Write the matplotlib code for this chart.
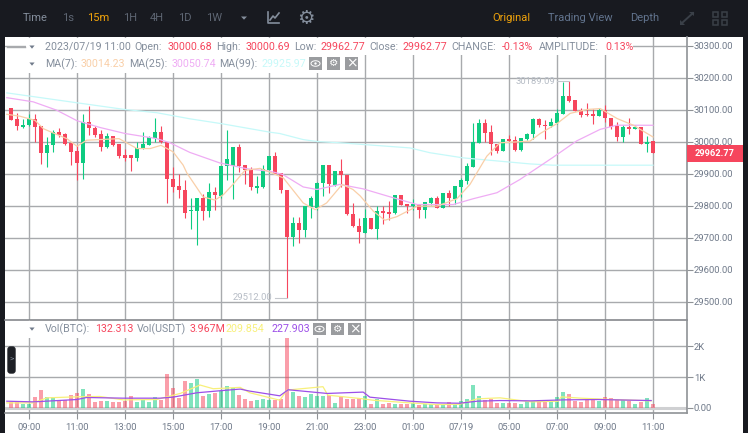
import matplotlib
matplotlib.use('Agg')
import matplotlib.pyplot as plt
from matplotlib.patches import Rectangle, Ellipse, Polygon, FancyBboxPatch

plt.rcParams['font.family'] = ['Roboto', 'DejaVu Sans']

# ローソク足 (08:15 から 15分ごと)
opens = [30106,30069,30046,30051,30069,30048,29964,29988,30029,30022,29994,29969,29934,30060,30043,30022,29983,30017,29991,29958,
         29957,29947,29979,29988,30012,30031,29999,29884,29860,29850,29782,29784,29824,29782,29842,29831,29923,29925,29982,29928,
         29915,29856,29858,29912,29956,29902,29850,29702,29744,29723,29796,29793,29869,29926,29865,29907,29895,29775,29737,29715,
         29760,29727,29784,29781,29777,29833,29805,29800,29804,29785,29808,29823,29793,29840,29821,29858,29878,29921,29996,30058,
         30029,29993,29971,30008,30004,29972,30008,30023,30069,30053,30048,30058,30086,30142,30129,30099,30085,30085,30081,30099,
         30075,30048,30013,30046,30040,30044,29992,30000.68]
highs = [30106,30090,30069,30085,30087,30048,30014,30035,30041,30027,29999,29988,30085,30110,30048,30037,30027,30017,29991,29978,
         29957,29999,30029,30017,30072,30048,29999,29919,29900,29881,29824,29824,29837,29871,29858,29925,30035,29982,29991,29928,
         29921,29892,29928,29956,29967,29902,29850,29765,29765,29798,29831,29873,29926,29926,29907,29946,29895,29808,29761,29790,
         29760,29798,29798,29814,29833,29833,29805,29819,29804,29810,29827,29831,29840,29847,29862,29886,29933,30058,30071,30071,
         30053,29993,30008,30019,30017,30010,30027,30075,30072,30067,30072,30103,30187,30189.09,30131,30105,30119,30103,30105,30114,
         30075,30061,30051,30072,30051,30044,30017,30000.69]
lows = [30066,30037,30041,30048,29999,29929,29921,29968,30014,29988,29926,29881,29884,30020,30014,29971,29981,29985,29950,29940,
        29908,29940,29977,29988,29999,29994,29808,29843,29822,29762,29727,29677,29754,29765,29787,29824,29881,29819,29904,29866,
        29850,29840,29855,29902,29900,29840,29512,29673,29683,29702,29761,29785,29831,29840,29860,29858,29769,29733,29683,29713,
        29727,29694,29741,29754,29775,29802,29777,29785,29761,29761,29803,29793,29791,29798,29806,29827,29866,29921,29996,29999,
        29959,29965,29971,29998,29971,29971,30006,30009,30046,30007,30046,30056,30086,30122,30094,30077,30079,30054,30079,30062,
        30038,30002,29998,30023,30038,29992,29966,29962.77]
closes = [30066,30048,30053,30069,30044,29964,29988,30029,30019,29992,29967,29934,30060,30041,30019,29983,30017,29988,29956,29950,
          29947,29981,29992,30014,30031,29997,29882,29858,29848,29777,29787,29824,29782,29842,29832,29925,29944,29982,29925,29912,
          29858,29862,29915,29956,29900,29850,29702,29744,29723,29798,29825,29869,29926,29866,29907,29895,29772,29735,29717,29760,
          29727,29784,29777,29775,29833,29802,29800,29804,29785,29810,29823,29793,29840,29823,29862,29881,29925,29997,30058,30027,
          29991,29971,30008,30001,29972,30010,30025,30071,30051,30049,30060,30088,30142,30126,30096,30083,30082,30081,30100,30072,
          30044,30013,30046,30040,30046,29992,30000,29962.77]
volumes = [197,197,142,142,339,590,361,350,251,251,404,470,612,437,197,240,240,186,208,240,
           383,208,262,208,361,262,1093,645,328,874,809,929,372,437,470,557,710,656,404,284,
           240,251,284,251,251,306,2400,525,383,339,459,372,383,404,175,339,306,284,328,383,
           131,284,120,164,142,120,142,153,109,131,131,142,120,186,142,240,284,732,372,262,
           306,164,175,175,175,131,219,230,251,230,230,350,503,448,230,208,251,251,240,339,
           328,262,273,230,142,208,328,132.313]

# 移動平均線 (読み取った点)
ma7_x = [-0.7,1.5,4,5.4,7,9.3,11,12.6,14.8,18,21,23.2,25,27,28.7,29.3,32,34,35.4,37,39,41.5,43.2,45.4,48.7,50.7,52.6,55.2,57,58.2,60.4,62.3,64.3,67.7,71,74.3,76.5,79.3,81.5,86.5,88.2,91,93.2,96,98.2,101,103.7,107]
ma7_y = [30085,30079,30066,30040,30027,30009,29985,30004,30006,30009,29978,29978,29988,29968,29926,29902,29827,29817,29834,29866,29910,29916,29904,29886,29808,29787,29808,29866,29850,29830,29782,29754,29765,29798,29798,29821,29866,29954,29996,30001,30025,30056,30088,30100,30103,30072,30051,30014.23]
ma25_x = [-0.7,3.7,7.6,11,14.8,19,24.3,26.5,29.8,34.8,39.3,43.2,45.3,48.7,51,54.8,58.7,63.2,67.7,73.7,77,81,84.8,90.3,94.3,98.2,101,107]
ma25_y = [30137,30124,30098,30065,30044,30025,30009,29996,29966,29933,29915,29907,29897,29858,29850,29866,29852,29827,29803,29803,29821,29840,29881,29950,30002,30038,30051,30050.74]
ma99_x = [-0.7,11,19,24.3,29.8,35,43.2,44.8,48.7,51,54.8,66.5,69.8,75.3,86.5,90.3,107]
ma99_y = [30152,30121,30100,30090,30071,30056,30029,30025,30006,30000,29996,29980,29965,29949,29930,29926,29925.97]

vol_ma1_x = [-0.7,3.7,6,11,14.8,18.7,24.3,28.2,31.5,33.7,38.2,39.8,44.8,46,52,52.8,58.7,60.3,66.5,71,74.8,77.7,81.5,86.7,91.2,91.7,95,100,106.7]
vol_ma1_y = [164,164,328,361,372,262,273,470,743,623,667,492,251,579,689,415,295,251,164,109,120,295,328,197,219,360,317,273,230]
vol_ma2_x = [-0.7,3.7,11,12.6,18.7,24.8,27,31,34.8,38.2,39.8,44.8,46.2,52.7,58.7,59.8,66.5,71,74.8,77.7,81.5,86.7,92.3,97.8,106.7]
vol_ma2_y = [219,197,273,339,317,317,350,492,557,612,546,393,590,470,514,350,219,164,153,219,240,230,262,273,240]

price_ticks = [29500,29600,29700,29800,29900,30000,30100,30200,30300]
vol_ticks = [0,1000,2000]
vol_tick_labels = ['0.00','1K','2K']
time_ticks = [3,11,19,27,35,43,51,59,67,75,83,91,99,107]
time_labels = ['09:00','11:00','13:00','15:00','17:00','19:00','21:00','23:00','01:00','07/19','05:00','07:00','09:00','11:00']

GREEN = '#0ecb81'
RED = '#f6465d'
GRID = '#a8aaad'
AXIS = '#8f9296'
LABEL = '#848e9c'
TICK = '#707a8a'
MA7_C = '#f9cfa8'
MA25_C = '#efacf4'
MA99_C = '#c6f9f9'
VOL1_C = '#f8f07a'
VOL2_C = '#9c4fe8'
W, H = 748, 433

fig = plt.figure(figsize=(W/100, H/100), dpi=100, facecolor='white')

def px_axes(x0, y0, x1, y1, **kw):
    return fig.add_axes([x0/W, 1-y1/H, (x1-x0)/W, (y1-y0)/H], **kw)

bg = px_axes(0, 0, W, H, zorder=0)
bg.set_xlim(0, W); bg.set_ylim(H, 0); bg.axis('off')
bg.add_patch(Rectangle((0, 0), W, 37, color='#181a20', lw=0))
bg.add_patch(Rectangle((0, 0), 5, H, color='#181a20', lw=0))
bg.add_patch(Rectangle((743, 0), 5, H, color='#181a20', lw=0))

# 価格
ax = px_axes(5, 37, 687, 320, zorder=1)
ax_v = px_axes(5, 320, 687, 413, zorder=1, sharex=ax)
xs = list(range(len(closes)))
colors = [GREEN if c >= o else RED for o, c in zip(opens, closes)]

for a in (ax, ax_v):
    a.patch.set_alpha(0)
    a.set_axisbelow(True)
    a.grid(True, color=GRID, lw=1.0)
    a.yaxis.tick_right()
    a.tick_params(axis='y', length=4, width=0.8, color=AXIS, labelcolor=TICK, labelsize=6.8, pad=1)
    a.spines['left'].set_visible(False)
    a.spines['right'].set_color(AXIS)
    a.spines['right'].set_linewidth(1.2)

ax.set_xlim(-1, 112.67)
ax.set_ylim(29442.2, 30326.6)
ax.set_yticks(price_ticks)
ax.set_yticklabels(['%.2f' % p for p in price_ticks])
ax.set_xticks(time_ticks)
ax.tick_params(axis='x', length=0, labelbottom=False)
ax.spines['top'].set_visible(False)
ax.spines['bottom'].set_color('#85888c')
ax.spines['bottom'].set_linewidth(1.2)

ax.vlines(xs, lows, highs, colors=colors, lw=0.8, zorder=3)
bottoms = [min(o, c) for o, c in zip(opens, closes)]
heights = [abs(o - c) for o, c in zip(opens, closes)]
ax.bar(xs, heights, bottom=bottoms, width=0.75, color=colors, lw=0, zorder=3)
ax.plot(ma99_x, ma99_y, color=MA99_C, lw=0.9, zorder=4)
ax.plot(ma25_x, ma25_y, color=MA25_C, lw=0.9, zorder=4)
ax.plot(ma7_x, ma7_y, color=MA7_C, lw=0.9, zorder=4)

# 最高値・最低値
ax.plot([93, 91], [30189.09, 30189.09], color='#c4c7cc', lw=0.8, zorder=4)
ax.text(90.7, 30189.09, '30189.09', ha='right', va='center', fontsize=6.8, color='#b7bdc6', zorder=4)
ax.plot([46, 44], [29512, 29512], color='#c4c7cc', lw=0.8, zorder=4)
ax.text(43.6, 29512, '29512.00', ha='right', va='center', fontsize=6.8, color='#b7bdc6', zorder=4)

# 出来高
ax_v.set_ylim(-164, 2852)
ax_v.set_yticks(vol_ticks)
ax_v.set_yticklabels(vol_tick_labels)
ax_v.set_xticks(time_ticks)
ax_v.set_xticklabels(time_labels)
ax_v.tick_params(axis='x', length=4, width=0.8, color=AXIS, labelcolor=TICK, labelsize=6.8, pad=3)
ax_v.spines['top'].set_visible(False)
ax_v.spines['bottom'].set_color(AXIS)
ax_v.spines['bottom'].set_linewidth(1.2)
ax_v.axhline(0, color='#cfd0d2', lw=2.2, zorder=2)
ax_v.bar(xs, volumes, width=0.72, color=colors, alpha=0.52, lw=0, zorder=3)
ax_v.plot(vol_ma1_x, vol_ma1_y, color=VOL1_C, lw=0.9, zorder=4)
ax_v.plot(vol_ma2_x, vol_ma2_y, color=VOL2_C, lw=0.9, zorder=4)

# 凡例とヘッダー
top = px_axes(0, 0, W, H, zorder=5)
top.set_xlim(0, W); top.set_ylim(H, 0); top.axis('off'); top.patch.set_alpha(0)

top.add_patch(Rectangle((26, 38), 607, 17, color='white', lw=0))
top.add_patch(Rectangle((26, 55), 332, 18, color='white', lw=0))
top.add_patch(Rectangle((26, 321), 336, 17, color='white', lw=0))

def label(x, y, s, color=LABEL, size=7.7, **kw):
    top.text(x, y, s, color=color, fontsize=size, va='center', ha='left', **kw)

def tri(x, y, color='#707a8a', r=2.6):
    top.add_patch(Polygon([(x-r, y-1.5), (x+r, y-1.5), (x, y+1.7)], color=color, lw=0))

def icon_boxes(xs_box, y0, y1):
    for n, x0 in enumerate(xs_box):
        top.add_patch(Rectangle((x0, y0), 13, y1-y0, color='#9a9c9f', lw=0))
        cx, cy = x0+6.5, (y0+y1)/2
        if n == 0:
            top.add_patch(Ellipse((cx, cy), 9, 5.5, fill=False, ec='white', lw=0.7))
            top.add_patch(Ellipse((cx, cy), 2.4, 2.4, color='white', lw=0))
        elif n == 1:
            top.text(cx, cy, '⚙', color='white', fontsize=7.5, ha='center', va='center', family='DejaVu Sans')
        else:
            top.text(cx, cy, '×', color='white', fontsize=10, ha='center', va='center', family='DejaVu Sans')

top.plot([7, 25], [47, 47], color=GRID, lw=1.0)
tri(32, 47)
tri(32, 64)
tri(32, 329)

for x, s, c in [(45, '2023/07/19 11:00', LABEL), (134, 'Open:', LABEL), (168, '30000.68', RED),
                (216, 'High:', LABEL), (246, '30000.69', RED), (294, 'Low:', LABEL), (321, '29962.77', RED),
                (369, 'Close:', LABEL), (403, '29962.77', RED), (451, 'CHANGE:', LABEL), (502, '-0.13%', RED),
                (539, 'AMPLITUDE:', LABEL), (605, '0.13%', RED)]:
    label(x, 47, s, c)
for x, s, c in [(45, 'MA(7):', LABEL), (81, '30014.23', MA7_C), (129, 'MA(25):', LABEL), (172, '30050.74', MA25_C),
                (219, 'MA(99):', LABEL), (262, '29925.97', MA99_C)]:
    label(x, 64, s, c)
for x, s, c in [(45, 'Vol(BTC):', LABEL), (95, '132.313', RED), (137, 'Vol(USDT)', LABEL), (190, '3.967M', RED),
                (226, '209.854', VOL1_C), (272, '227.903', VOL2_C)]:
    label(x, 329, s, c)
icon_boxes([309, 327, 345], 57, 70)
icon_boxes([313, 331, 348], 323, 335)

# 現在値
top.add_patch(Rectangle((687, 145), 56, 17, color=RED, lw=0))
top.text(715, 153.5, '29962.77', color='white', fontsize=6.7, ha='center', va='center', fontweight='bold')

# 折りたたみボタン
top.add_patch(FancyBboxPatch((8, 347), 7, 26, boxstyle='round,pad=0,rounding_size=2.5', fc='#1e2026', ec='#1e2026', lw=1))
top.text(11.7, 360, '>', color='#848e9c', fontsize=6, ha='center', va='center')

for x, s, c in [(23, 'Time', '#848e9c'), (62, '1s', '#5e6673'), (87, '15m', '#f0a30b'), (123, '1H', '#5e6673'),
                (150, '4H', '#5e6673'), (178, '1D', '#5e6673'), (206, '1W', '#5e6673'),
                (492, 'Original', '#f0a30b'), (548, 'Trading View', '#62748e'), (630, 'Depth', '#62748e')]:
    label(x, 18, s, c, size=8.0)
tri(244, 18, '#848e9c', r=3)
top.plot([268, 268, 279], [12, 23, 23], color='#848e9c', lw=1.2)
top.plot([270, 273, 275, 279], [20, 16, 18, 13], color='#848e9c', lw=1.2)
top.text(306, 18, '⚙', color='#848e9c', fontsize=14, ha='center', va='center', family='DejaVu Sans')
top.plot([682, 693], [23, 13], color='#3a4048', lw=1.4)
top.add_patch(Polygon([(689, 11.5), (694, 11.5), (694, 16)], color='#3a4048', lw=0))
top.add_patch(Polygon([(680, 25), (685, 25), (680, 20)], color='#3a4048', lw=0))
for x0 in (713, 722):
    for y0 in (12, 20):
        top.add_patch(Rectangle((x0, y0), 5.5, 4.5, fill=False, ec='#3a4048', lw=1.1))

fig.savefig('out.png', dpi=100, facecolor='white')
